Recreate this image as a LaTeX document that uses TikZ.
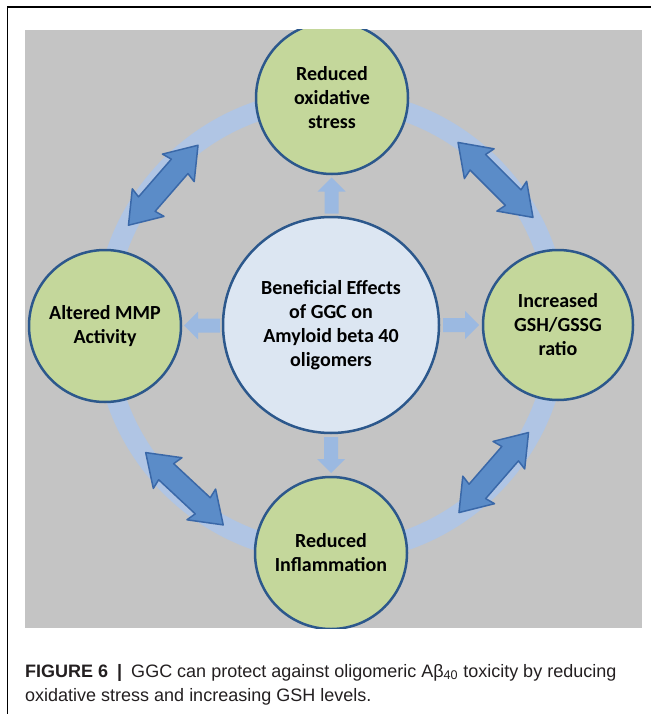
\documentclass[tikz,border=0pt]{standalone}
\usepackage{fontspec}
\setmainfont{Liberation Sans}
\newfontfamily\calibfont{Carlito}
\usetikzlibrary{calc}
\definecolor{panelgray}{RGB}{196,196,196}
\definecolor{ringblue}{RGB}{176,197,228}
\definecolor{swapblue}{RGB}{91,140,200}
\definecolor{swapedge}{RGB}{58,104,168}
\definecolor{pushblue}{RGB}{155,185,225}
\definecolor{effgreen}{RGB}{196,215,155}
\definecolor{hubblue}{RGB}{220,230,242}
\definecolor{rimblue}{RGB}{44,88,140}
\definecolor{captext}{RGB}{35,31,32}

\begin{document}
\begin{tikzpicture}[x=1pt,y=-1pt, inner sep=1mm, >=stealth,
  effect/.style={circle, draw=rimblue, line width=2.5pt, fill=effgreen, minimum size=152pt, inner sep=0pt, align=center, font=\calibfont\bfseries\fontsize{20}{24}\selectfont},
  hub/.style={effect, fill=hubblue, minimum size=216pt},
  swaparrow/.pic={\draw[fill=swapblue, draw=swapedge, line width=1.5pt, line join=round]
    (53,0) -- (23,21) -- (25,11) -- (-25,11) -- (-23,21) -- (-53,0) -- (-23,-21) -- (-25,-11) -- (25,-11) -- (23,-21) -- cycle;},
  pusharrow/.pic={\fill[pushblue] (18,0) -- (4,14) -- (4,7) -- (-18,7) -- (-18,-7) -- (4,-7) -- (4,-14) -- cycle;},
  figcaption/.style={anchor=base west, inner sep=0pt, text=captext, font=\fontsize{18}{24}\selectfont}]
\useasboundingbox (0,0) rectangle (651,714);
\draw[line width=1.5pt] (7,7) -- (651,7);
\draw[line width=1.5pt] (7.5,7) -- (7.5,714);
\fill[panelgray] (25,30) rectangle (642,628);
\begin{scope}
\clip (25,30) rectangle (642,628);
\coordinate (ctr) at (331,326);
\draw[ringblue, line width=20pt] (ctr) circle (227pt);
\pic[rotate=49] at ($(ctr)+(140:219pt)$) {swaparrow};
\pic[rotate=-45] at ($(ctr)+(41.6:220pt)$) {swaparrow};
\pic[rotate=-43] at ($(ctr)+(228:219pt)$) {swaparrow};
\pic[rotate=49] at ($(ctr)+(-42:219pt)$) {swaparrow};
\node (hub) at (331,325) [hub] {Beneficial Effects\\of GGC on\\Amyloid beta 40\\oligomers};
\node (top) at (332,98) [effect] {Reduced\\oxidative\\stress};
\node (lft) at (105,326) [effect] {Altered MMP\\Activity};
\node (rgt) at (558,325) [effect, minimum size=150pt] {Increased\\GSH/GSSG\\ratio};
\node (bot) at (331,553) [effect] {Reduced\\Inflammation};
\pic[rotate=90] at ($(hub.north)!0.5!(top.south)$) {pusharrow};
\pic[rotate=180] at ($(hub.west)!0.5!(lft.east)$) {pusharrow};
\pic at ($(hub.east)!0.5!(rgt.west)$) {pusharrow};
\pic[rotate=-90] at ($(hub.south)!0.5!(bot.north)$) {pusharrow};
\end{scope}
\node (cap1) at (25,677) [figcaption] {\textbf{FIGURE 6}\enspace\textbf{|}\enspace GGC can protect against oligomeric Aβ\textsubscript{40} toxicity by reducing};
\node (cap2) at (25,701) [figcaption] {oxidative stress and increasing GSH levels.};
\end{tikzpicture}
\end{document}
